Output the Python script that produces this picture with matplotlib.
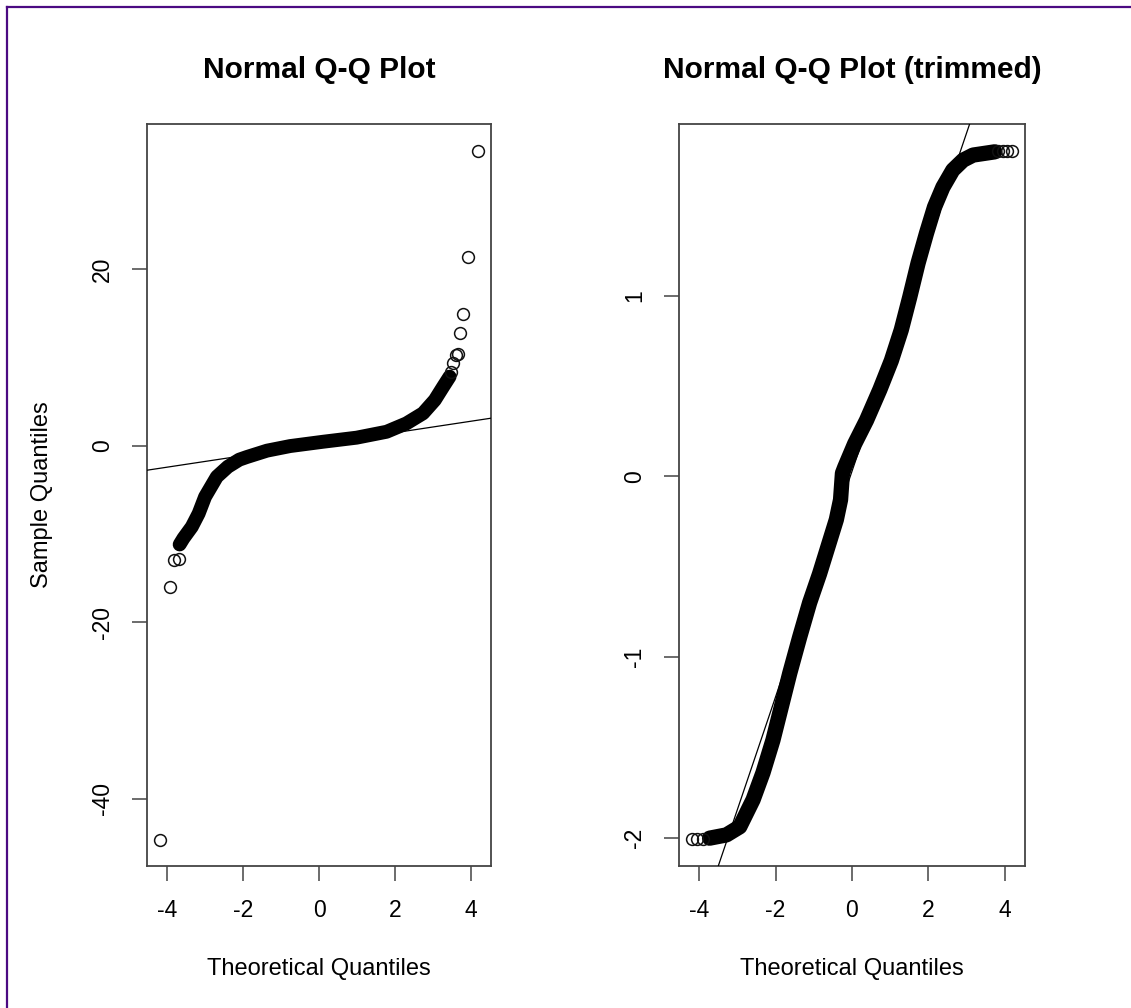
import matplotlib
matplotlib.use("Agg")
import matplotlib.pyplot as plt
from matplotlib.lines import Line2D

plt.rcParams['font.family'] = ['Liberation Sans', 'DejaVu Sans']

# --- left panel: full sample ---
# dense part of the Q-Q cloud
full_band_x = [-3.67, -3.57, -3.35, -3.17, -3.00, -2.69, -2.40, -2.10, -1.90, -1.37,
               -0.76, 0.11, 0.99, 1.78, 2.30, 2.74, 3.05, 3.27, 3.44]
full_band_y = [-11.2, -10.5, -9.2, -7.7, -5.8, -3.53, -2.4, -1.6, -1.3, -0.58,
               -0.06, 0.43, 0.89, 1.56, 2.5, 3.65, 5.15, 6.66, 7.8]
# sparse tail points
full_tail_x = [-4.20, -3.93, -3.82, -3.69, 3.48, 3.53, 3.61, 3.65, 3.71, 3.79, 3.92, 4.19]
full_tail_y = [-44.6, -16.0, -13.0, -12.8, 8.3, 9.3, 10.2, 10.4, 12.7, 14.9, 21.4, 33.3]
full_line = (0.15, 0.65)  # intercept, slope of qqline
full_yticks = [-40, -20, 0, 20]

# --- right panel: trimmed sample ---
trim_band_x = [-3.73, -3.29, -2.94, -2.59, -2.33, -2.07, -1.85, -1.63, -1.37, -1.11,
               -0.85, -0.63, -0.41, -0.30, -0.25, -0.19, 0.07, 0.38, 0.73, 1.03,
               1.29, 1.51, 1.73, 1.95, 2.16, 2.38, 2.64, 2.91, 3.17, 3.74]
trim_band_y = [-2.003, -1.985, -1.94, -1.79, -1.64, -1.46, -1.275, -1.09, -0.89, -0.70,
               -0.54, -0.39, -0.24, -0.13, 0.017, 0.05, 0.18, 0.31, 0.48, 0.64,
               0.81, 0.99, 1.18, 1.345, 1.49, 1.60, 1.695, 1.75, 1.778, 1.796]
trim_tail_x = [-4.20, -4.07, -3.90, 3.82, 3.95, 4.07, 4.19]
trim_tail_y = [-2.01, -2.008, -2.006, 1.798, 1.80, 1.80, 1.80]
trim_line = (0.028, 0.624)
trim_yticks = [-2, -1, 0, 1]

xticks = [-4, -2, 0, 2, 4]

W, H = 1131, 1008
fig = plt.figure(figsize=(W / 100, H / 100), dpi=100)

ax1 = fig.add_axes([147 / W, 1 - 866 / H, 344 / W, 742 / H])
ax2 = fig.add_axes([679 / W, 1 - 866 / H, 346 / W, 742 / H])

spine_col = '#444444'
pt_col = '#111111'


def draw_panel(ax, bx, by, tx, ty, line, yticks, ylim, title, band_lw):
    ax.plot(bx, by, color='black', lw=band_lw, solid_capstyle='round',
            solid_joinstyle='round', zorder=2)
    ax.plot(tx, ty, linestyle='none', marker='o', markersize=8.5,
            markerfacecolor='none', markeredgecolor=pt_col, markeredgewidth=1.1, zorder=3)
    ax.axline((0, line[0]), slope=line[1], color='black', lw=0.9, zorder=4)
    ax.set_xlim(-4.53, 4.53)
    ax.set_ylim(*ylim)
    ax.set_xticks(xticks)
    ax.set_yticks(yticks)
    ax.set_xticklabels([str(v) for v in xticks])
    ax.set_yticklabels([str(v) for v in yticks], rotation=90, va='center')
    ax.tick_params(length=10.5, width=1.1, color=spine_col, labelsize=16.5, pad=13)
    for s in ax.spines.values():
        s.set_color(spine_col)
        s.set_linewidth(1.3)
    ax.set_title(title, fontsize=21.5, fontweight='bold', pad=33)
    pos = ax.get_position()
    fig.text((pos.x0 + pos.x1) / 2, 1 - 969 / H, "Theoretical Quantiles",
             ha='center', va='center', fontsize=17)


draw_panel(ax1, full_band_x, full_band_y, full_tail_x, full_tail_y, full_line,
           full_yticks, (-47.6, 36.4), "Normal Q-Q Plot", 10.0)
draw_panel(ax2, trim_band_x, trim_band_y, trim_tail_x, trim_tail_y, trim_line,
           trim_yticks, (-2.157, 1.95), "Normal Q-Q Plot (trimmed)", 11.0)

fig.text(42 / W, 1 - 495 / H, "Sample Quantiles", rotation=90,
         ha='center', va='center', fontsize=17)

# purple frame (top and left edges only)
border = '#4b0a82'
fig.add_artist(Line2D([6.5 / W, 6.5 / W], [0, 1 - 7 / H], color=border, lw=1.6,
                      transform=fig.transFigure))
fig.add_artist(Line2D([6.5 / W, 1], [1 - 7 / H, 1 - 7 / H], color=border, lw=1.6,
                      transform=fig.transFigure))

fig.savefig("out.png", dpi=100)
